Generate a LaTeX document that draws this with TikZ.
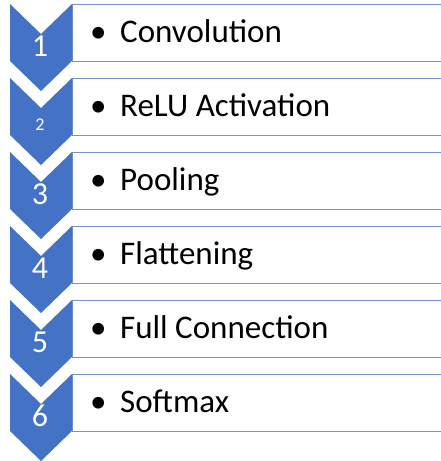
\documentclass[tikz,border=0pt]{standalone}
\usepackage{fontspec}
\setmainfont{Carlito}
\definecolor{chevblue}{RGB}{68,114,196}
\definecolor{boxblue}{RGB}{114,148,212}

\begin{document}
\begin{tikzpicture}[x=1pt, y=-1pt,
  box/.style={draw=boxblue, line width=1.4pt, fill=white, rectangle,
    minimum width=400pt, minimum height=57pt, inner sep=0pt, anchor=north west},
  chev/.style={fill=chevblue, draw=none},
  num/.style={text=white, anchor=base, inner sep=0pt},
  lbl/.style={text=black, anchor=base west, inner sep=0pt, font=\fontsize{33}{33}\selectfont}]
\useasboundingbox (0,0) rectangle (440,461);
\foreach \i/\txt/\sz in {1/Convolution/32, 2/ReLU Activation/18, 3/Pooling/32,
    4/Flattening/32, 5/Full Connection/32, 6/Softmax/32}
{
  \pgfmathsetmacro{\y}{4+(\i-1)*74}
  \node[box] (box\i) at (72,\y) {};
  \fill[chev] (10,\y) -- (41,\y+30) -- (72,\y) -- (72,\y+57)
    -- (41,\y+87) -- (10,\y+57) -- cycle;
  \node[num, font=\fontsize{\sz}{\sz}\selectfont] (num\i) at (40,\y+52) {\i};
  \node[lbl] (lbl\i) at (90,\y+38) {\makebox[30pt][l]{\textbullet}\txt};
}
\end{tikzpicture}
\end{document}
